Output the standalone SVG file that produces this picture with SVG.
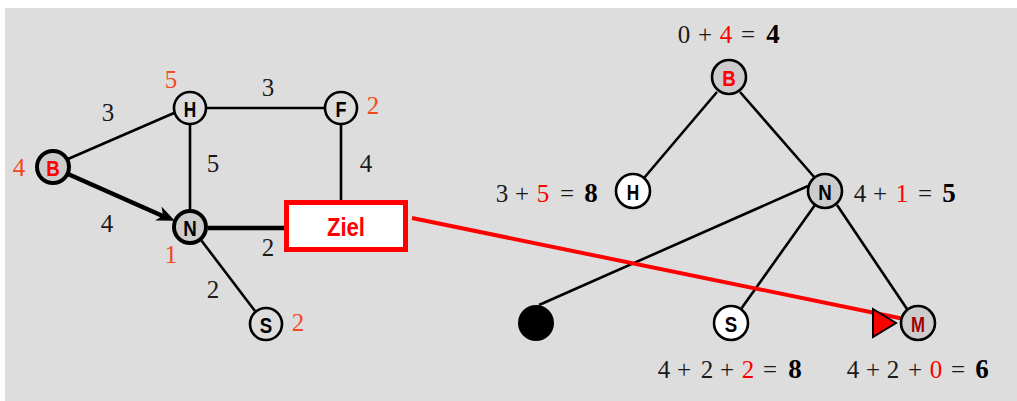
<svg xmlns="http://www.w3.org/2000/svg" width="1017" height="401" viewBox="0 0 1017 401">
<style>
.bg{fill:#dddddd}
.e{stroke:#000;stroke-width:2.6;fill:none}
.et{stroke:#000;stroke-width:4.5;fill:none}
.n{stroke:#000;stroke-width:2.6}
.nt{stroke:#000;stroke-width:4}
.lab{font-family:"Liberation Sans",Arial,sans-serif;font-weight:bold;font-size:24px;text-anchor:middle}
.num{font-family:"Liberation Serif","DejaVu Serif",serif;font-size:25px;fill:#1a1a1a;text-anchor:middle}
.rnum{font-family:"Liberation Serif","DejaVu Serif",serif;font-size:25px;fill:#f04a1e;text-anchor:middle}
.eq{font-family:"Liberation Serif","DejaVu Serif",serif;font-size:25px;fill:#1a1a1a;text-anchor:middle}
.r{fill:#ff0000}
.b{font-weight:bold;fill:#000;font-size:27px}
</style>
<rect class="bg" x="5" y="8" width="1012" height="393"/>

<g id="connectors">
  <line class="e" x1="68" y1="159" x2="174" y2="113"/>
  <line class="et" x1="68" y1="174" x2="165" y2="217"/>
  <path d="M173,220 L157.7,219.7 L163.9,215.9 L162.7,208.8 Z" fill="#000" stroke="#000" stroke-width="1.5" stroke-linejoin="miter"/>
  <line class="e" x1="206" y1="108" x2="325" y2="108"/>
  <line class="e" x1="190" y1="124" x2="190" y2="210"/>
  <line class="e" x1="341" y1="124" x2="341" y2="202"/>
  <line class="et" x1="208" y1="228" x2="287" y2="228"/>
  <line class="e" x1="201" y1="240" x2="255" y2="311"/>

  <line class="e" x1="717" y1="92" x2="644" y2="178"/>
  <line class="e" x1="740" y1="92" x2="815" y2="178"/>
  <line class="e" x1="808" y1="186" x2="539" y2="305"/>
  <line class="e" x1="815" y1="205" x2="741" y2="309"/>
  <line class="e" x1="837" y1="205" x2="907" y2="309"/>

  <line x1="412" y1="218" x2="909" y2="320" stroke="#ff0000" stroke-width="4"/>
  <polygon points="873,309 896,323 873,337" fill="#ff0000" stroke="#000" stroke-width="2" stroke-linejoin="miter"/>
</g>

<g id="node-B-left">
  <circle class="nt" cx="53" cy="167" r="16" fill="#cccccc"/>
  <text class="lab" transform="translate(53,175.5) scale(0.78,0.9)" fill="#ff0000">B</text>
</g>
<g id="node-H-left">
  <circle class="n" cx="190" cy="108" r="16" fill="#dddddd"/>
  <text class="lab" transform="translate(190,116.5) scale(0.72,0.9)">H</text>
</g>
<g id="node-F-left">
  <circle class="n" cx="341" cy="108" r="16" fill="#dddddd"/>
  <text class="lab" transform="translate(341,116.5) scale(0.75,0.9)">F</text>
</g>
<g id="node-N-left">
  <circle class="nt" cx="190" cy="227" r="16" fill="#cccccc"/>
  <text class="lab" transform="translate(190,235.5) scale(0.78,0.9)">N</text>
</g>
<g id="node-S-left">
  <circle class="n" cx="266" cy="324" r="16" fill="#dddddd"/>
  <text class="lab" transform="translate(266,332.5) scale(0.78,0.9)">S</text>
</g>
<g id="node-Ziel">
  <rect x="286.5" y="202.5" width="119" height="47" fill="#ffffff" stroke="#ff0000" stroke-width="5"/>
  <text x="346" y="236" font-family="Liberation Sans,Arial,sans-serif" font-weight="bold" font-size="26" fill="#ff0000" text-anchor="middle" textLength="38" lengthAdjust="spacingAndGlyphs">Ziel</text>
</g>

<g id="edge-labels">
  <text class="num" x="108" y="121">3</text>
  <text class="num" x="268" y="96">3</text>
  <text class="num" x="213" y="172">5</text>
  <text class="num" x="366" y="172">4</text>
  <text class="num" x="107" y="232">4</text>
  <text class="num" x="268" y="256">2</text>
  <text class="num" x="213" y="298">2</text>
  <text class="rnum" x="171" y="88">5</text>
  <text class="rnum" x="373" y="114">2</text>
  <text class="rnum" x="19" y="176">4</text>
  <text class="rnum" x="171" y="263">1</text>
  <text class="rnum" x="298" y="331">2</text>
</g>

<g id="node-B-tree">
  <circle class="n" cx="729" cy="77" r="17" fill="#cccccc"/>
  <text class="lab" transform="translate(729,85.5) scale(0.78,0.9)" fill="#ff0000">B</text>
</g>
<g id="node-H-tree">
  <circle class="n" cx="633" cy="191" r="17" fill="#ffffff"/>
  <text class="lab" transform="translate(633,199.5) scale(0.72,0.9)">H</text>
</g>
<g id="node-N-tree">
  <circle class="n" cx="825" cy="191" r="17" fill="#cccccc"/>
  <text class="lab" transform="translate(825,199.5) scale(0.78,0.9)">N</text>
</g>
<g id="node-black">
  <circle cx="536" cy="323" r="18" fill="#000"/>
</g>
<g id="node-S-tree">
  <circle class="n" cx="731" cy="323" r="17" fill="#ffffff"/>
  <text class="lab" transform="translate(731,331.5) scale(0.78,0.9)">S</text>
</g>
<g id="node-M-tree">
  <circle class="n" cx="918" cy="323" r="17" fill="#cccccc"/>
  <text class="lab" transform="translate(918,331.5) scale(0.7,0.9)" fill="#a00000">M</text>
</g>

<g id="equations">
  <text class="eq" y="43"><tspan x="684">0</tspan><tspan x="705">+</tspan><tspan x="726" class="r">4</tspan><tspan x="748">=</tspan><tspan x="773" class="b">4</tspan></text>
  <text class="eq" y="202"><tspan x="502">3</tspan><tspan x="522">+</tspan><tspan x="543" class="r">5</tspan><tspan x="567">=</tspan><tspan x="591" class="b">8</tspan></text>
  <text class="eq" y="202"><tspan x="860">4</tspan><tspan x="880">+</tspan><tspan x="902" class="r">1</tspan><tspan x="925">=</tspan><tspan x="949" class="b">5</tspan></text>
  <text class="eq" y="378"><tspan x="664">4</tspan><tspan x="684">+</tspan><tspan x="707">2</tspan><tspan x="727">+</tspan><tspan x="748" class="r">2</tspan><tspan x="770">=</tspan><tspan x="795" class="b">8</tspan></text>
  <text class="eq" y="378"><tspan x="853">4</tspan><tspan x="873">+</tspan><tspan x="893">2</tspan><tspan x="915">+</tspan><tspan x="936" class="r">0</tspan><tspan x="958">=</tspan><tspan x="982" class="b">6</tspan></text>
</g>
</svg>
